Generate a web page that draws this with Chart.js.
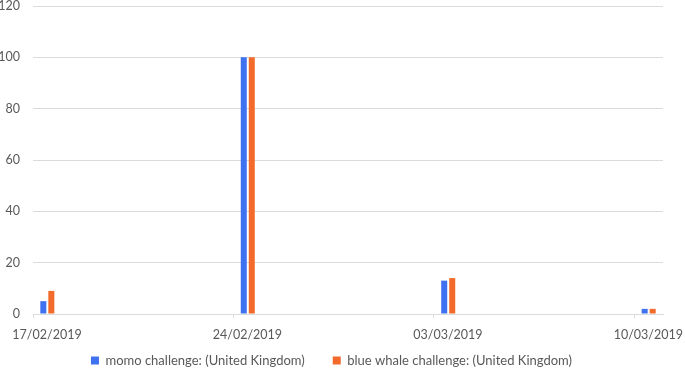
<!DOCTYPE html>
<html>
<head>
<meta charset="utf-8">
<script src="https://cdn.jsdelivr.net/npm/chart.js@4/dist/chart.umd.min.js"></script>
<style>
  html, body { margin: 0; padding: 0; background: #fff; }
  #wrap { width: 685px; height: 370px; }
</style>
</head>
<body>
<div id="wrap"><canvas id="chart" width="685" height="370"></canvas></div>
<script>
const weeks = ["17/02/2019", "24/02/2019", "03/03/2019", "10/03/2019"];
const dayIndex = [0, 7, 14, 21];
const momo = [5, 100, 13, 2];
const blueWhale = [9, 100, 14, 2];
const yTicks = [0, 20, 40, 60, 80, 100, 120];

const textColor = "#595959";
const gridColor = "#d9dcdc";

new Chart(document.getElementById("chart"), {
  type: "bar",
  data: {
    datasets: [
      {
        label: "momo challenge: (United Kingdom)",
        data: dayIndex.map((d, i) => ({ x: d + 0.5, y: momo[i] })),
        backgroundColor: "#3f72f0",
      },
      {
        label: "blue whale challenge: (United Kingdom)",
        data: dayIndex.map((d, i) => ({ x: d + 0.5, y: blueWhale[i] })),
        backgroundColor: "#f26b2a",
      },
    ],
  },
  options: {
    responsive: false,
    animation: false,
    layout: { padding: { left: 0, right: 22, top: 0, bottom: -7 } },
    datasets: {
      bar: { categoryPercentage: 0.08, barPercentage: 0.75 },
    },
    plugins: {
      tooltip: { enabled: false },
      legend: {
        position: "bottom",
        labels: {
          color: textColor,
          font: { family: "Lato", size: 13 },
          boxWidth: 8,
          boxHeight: 8,
          padding: 28,
        },
      },
    },
    scales: {
      x: {
        type: "linear",
        offset: false,
        min: 0,
        max: 22,
        afterBuildTicks: (axis) => {
          axis.ticks = dayIndex.map((v) => ({ value: v }));
        },
        // labels hang below the axis into the legend's top padding
        afterFit: (axis) => {
          axis.paddingLeft = 0;
          axis.paddingRight = 0;
          axis.height = 12;
        },
        grid: {
          offset: false,
          drawOnChartArea: false,
          drawTicks: true,
          tickLength: 4,
          color: gridColor,
        },
        border: { display: true, color: gridColor },
        ticks: {
          color: textColor,
          font: { family: "Lato", size: 12.5 },
          mirror: true,
          padding: -28,
          labelOffset: 14,
          maxRotation: 0,
          callback: (value) => weeks[dayIndex.indexOf(value)],
        },
      },
      y: {
        min: 0,
        max: 120,
        afterBuildTicks: (axis) => {
          axis.ticks = yTicks.map((v) => ({ value: v }));
        },
        afterFit: (axis) => {
          axis.width = 33;
          axis.paddingTop = 6;
          axis.paddingBottom = 0;
        },
        grid: { color: gridColor, drawTicks: false },
        border: { display: false },
        ticks: {
          color: textColor,
          font: { family: "Lato", size: 12.5 },
          padding: 13,
        },
      },
    },
  },
});
</script>
</body>
</html>
